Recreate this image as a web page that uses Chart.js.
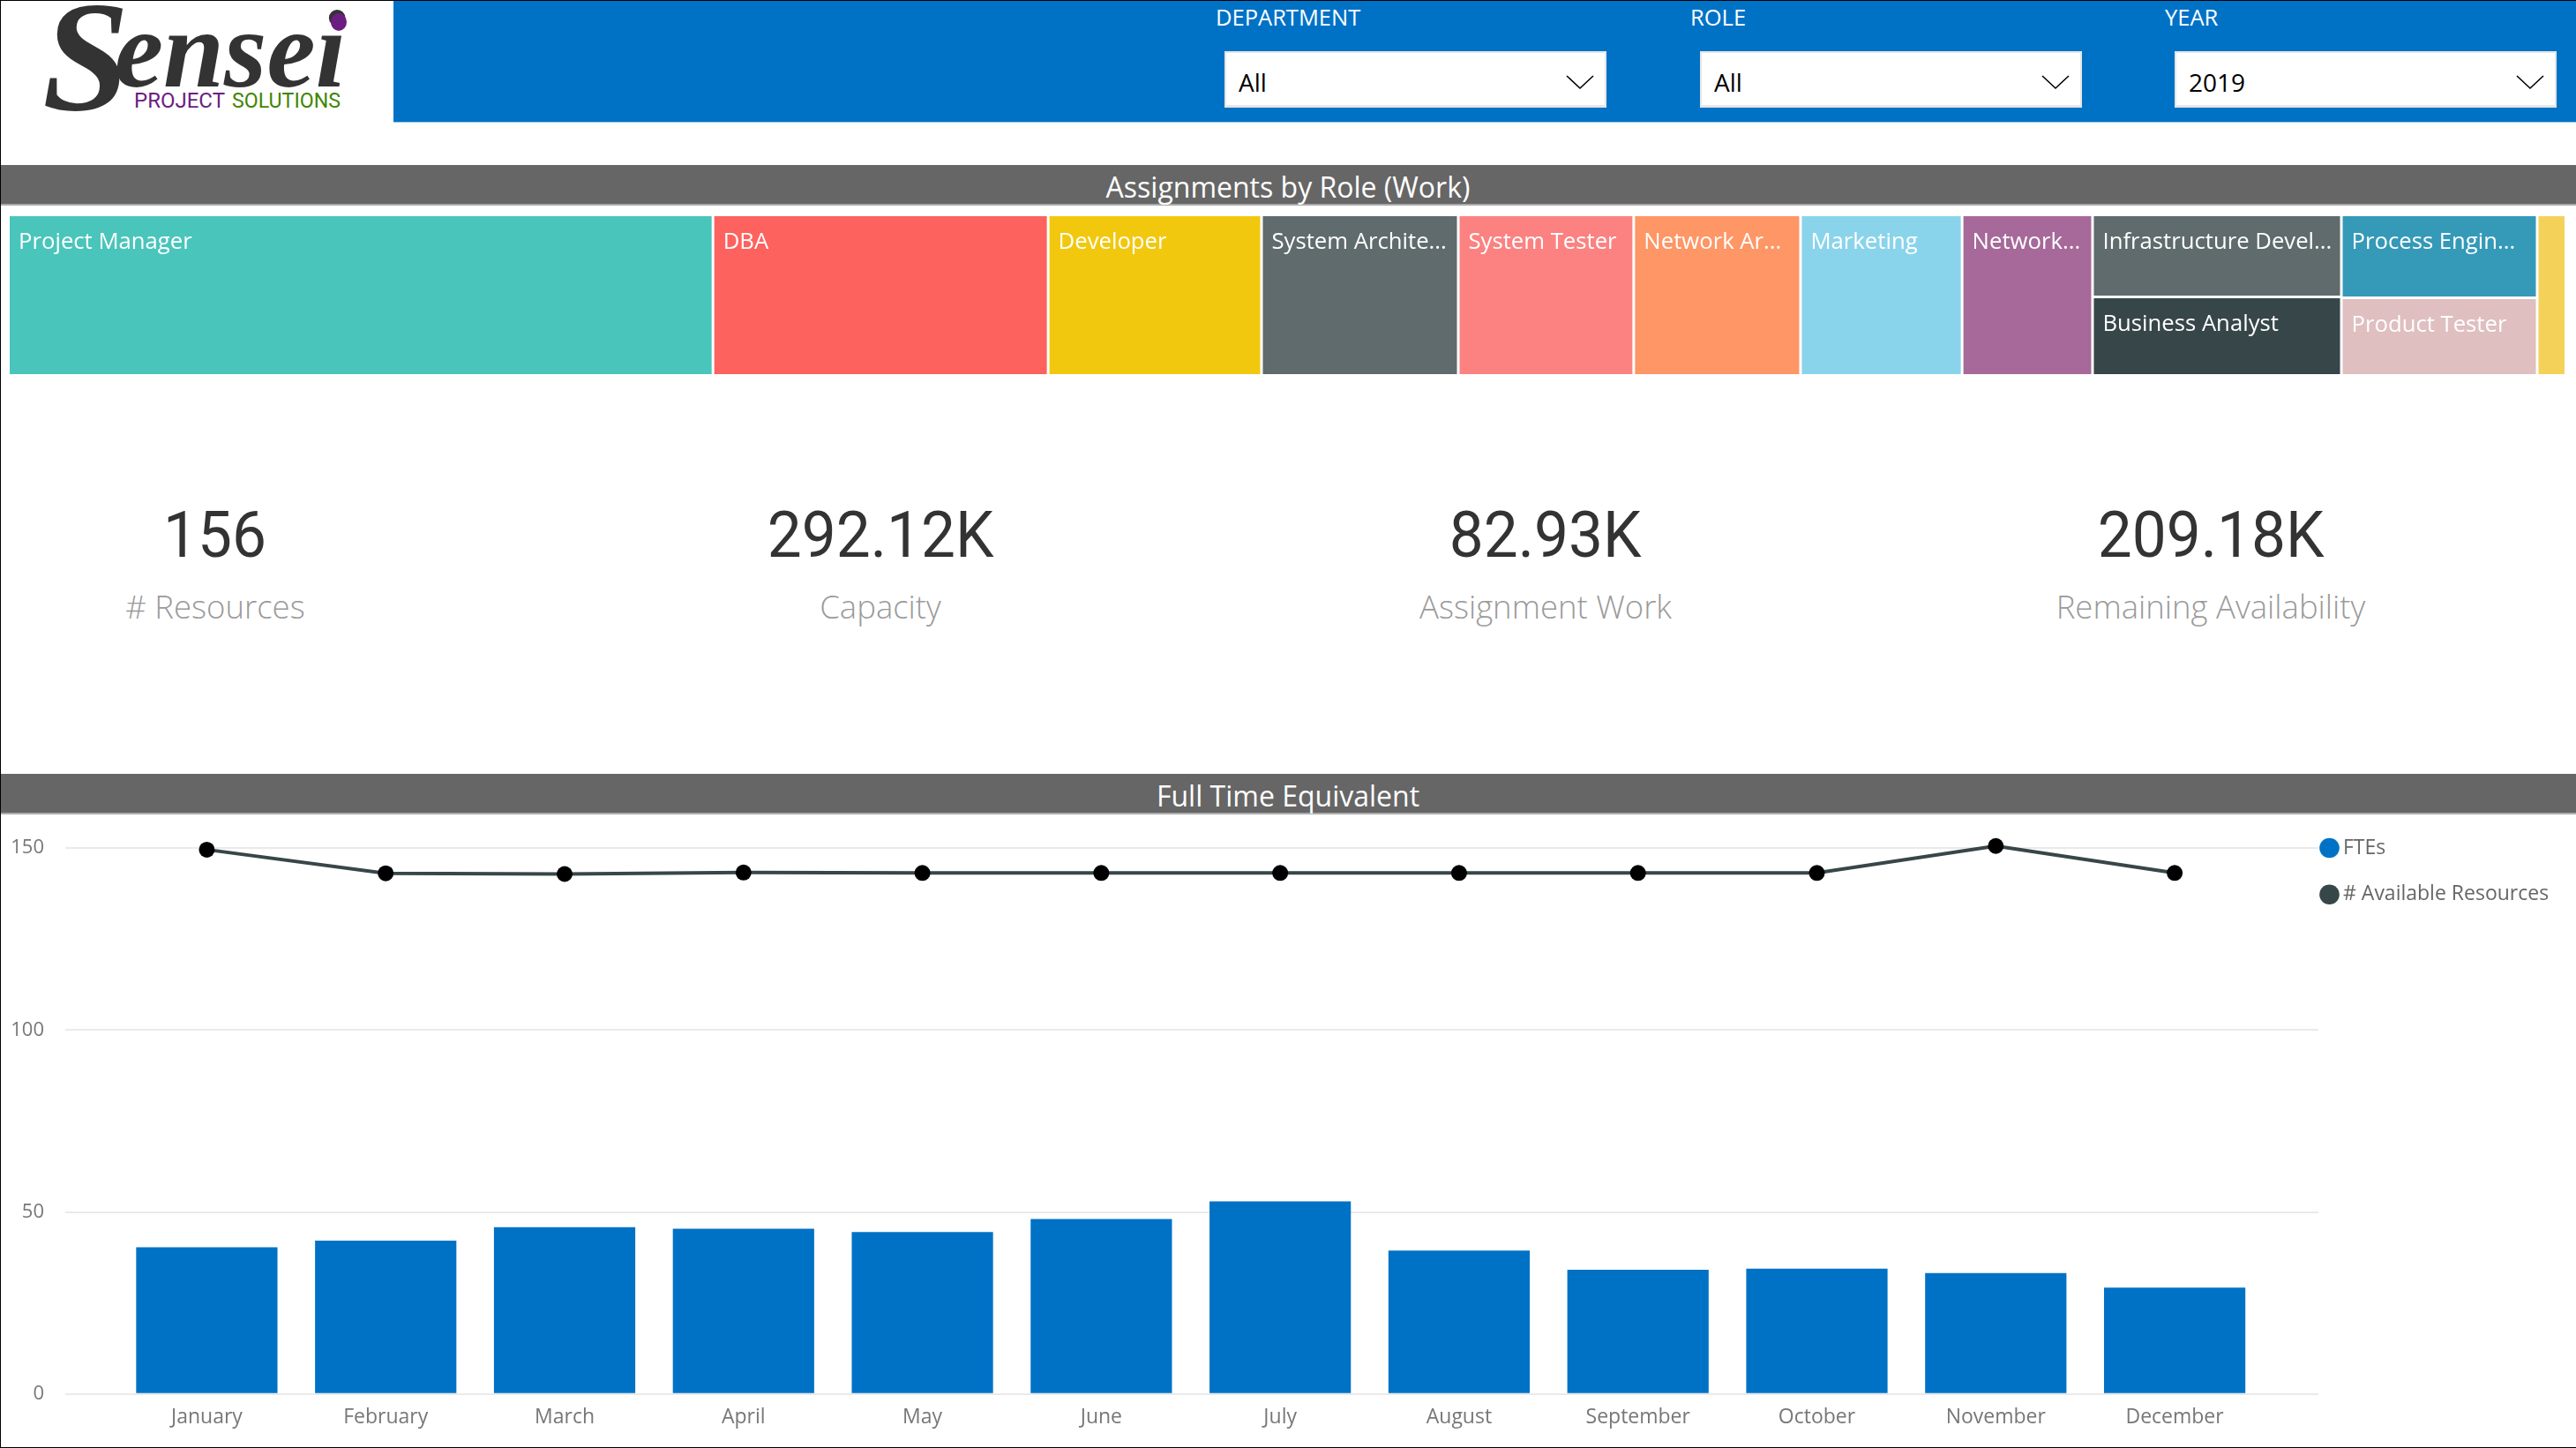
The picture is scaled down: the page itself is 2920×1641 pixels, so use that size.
<!DOCTYPE html>
<html>
<head>
<meta charset="utf-8">
<title>Sensei Project Solutions</title>
<script src="https://cdn.jsdelivr.net/npm/chart.js@4/dist/chart.umd.min.js"></script>
<style>
html,body{margin:0;padding:0;background:#fff;width:2920px;height:1641px;overflow:hidden;font-family:"Open Sans",sans-serif}
.abs{position:absolute}
#frame{left:0;top:0;width:2920px;height:1641px;box-sizing:border-box;border-top:1px solid #000;border-left:1px solid #000;border-bottom:1px solid #000;pointer-events:none;z-index:5}
#band{left:446px;top:1px;width:2474px;height:138px;background:#0072C6;border-bottom:1px solid #9cc4e4;box-sizing:border-box}
.slab{color:#fff;font-size:25.5px;line-height:25px;top:7px}
.box{top:58px;height:64px;width:433px;background:#fff;box-sizing:border-box;border:2px solid #e6e6e6;border-bottom-width:3px;border-top-width:2px}
.box span{position:absolute;left:14px;top:14px;font-size:28px;line-height:38px;color:#000}
.box svg{position:absolute;right:12px;top:24px}
.head{left:0;width:2920px;height:44px;background:#666;color:#fff;text-align:center;font-size:32px;line-height:50px;border-bottom:2px solid #aaa;}
.kv{width:800px;text-align:center;top:566px;font-family:Roboto,sans-serif;font-size:73px;line-height:80px;color:#333}
.kv span{display:inline-block;transform:scaleX(.95)}
.kl{width:800px;text-align:center;top:664px;font-size:36.5px;line-height:46px;color:#9a9a9a;font-weight:300}
canvas{position:absolute;display:block}
</style>
</head>
<body>
<div class="abs" id="frame"></div>
<svg class="abs" style="left:0;top:0" width="446" height="138">
  <text x="48" y="124" font-family="Liberation Serif" font-style="italic" font-weight="bold" font-size="177" fill="#333">S</text>
  <text x="130" y="98" font-family="Liberation Serif" font-style="italic" font-weight="bold" font-size="125" fill="#333" textLength="262" lengthAdjust="spacingAndGlyphs">ensei</text>
  <ellipse cx="384" cy="25" rx="9" ry="10" fill="#6C1D82"/>
  <text x="152" y="122" font-family="Roboto" font-size="24" fill="#6C1D82" textLength="103" lengthAdjust="spacingAndGlyphs">PROJECT</text>
  <text x="263" y="122" font-family="Roboto" font-size="24" fill="#3F8500" textLength="123" lengthAdjust="spacingAndGlyphs">SOLUTIONS</text>
</svg>
<div class="abs" id="band"></div>
<div class="abs slab" style="left:1378px">DEPARTMENT</div>
<div class="abs slab" style="left:1916px">ROLE</div>
<div class="abs slab" style="left:2454px">YEAR</div>
<div class="abs box" style="left:1388px"><span>All</span><svg width="32" height="18"><polyline points="1,2 16,16 31,2" fill="none" stroke="#000" stroke-width="1.6"/></svg></div>
<div class="abs box" style="left:1927px"><span>All</span><svg width="32" height="18"><polyline points="1,2 16,16 31,2" fill="none" stroke="#000" stroke-width="1.6"/></svg></div>
<div class="abs box" style="left:2465px"><span>2019</span><svg width="32" height="18"><polyline points="1,2 16,16 31,2" fill="none" stroke="#000" stroke-width="1.6"/></svg></div>
<div class="abs head" style="top:187px">Assignments by Role (Work)</div>
<div class="abs head" style="top:877px">Full Time Equivalent</div>
<div class="abs kv" style="left:-156px"><span>156</span></div>
<div class="abs kl" style="left:-156px"># Resources</div>
<div class="abs kv" style="left:598px"><span>292.12K</span></div>
<div class="abs kl" style="left:598px">Capacity</div>
<div class="abs kv" style="left:1352px"><span>82.93K</span></div>
<div class="abs kl" style="left:1352px">Assignment Work</div>
<div class="abs kv" style="left:2106px"><span>209.18K</span></div>
<div class="abs kl" style="left:2106px">Remaining Availability</div>
<canvas id="tree" width="2899" height="182" style="left:9px;top:243px"></canvas>
<canvas id="combo" width="2920" height="720" style="left:0;top:920px"></canvas>
<script>
const roles = ['Project Manager','DBA','Developer','System Archite...','System Tester','Network Ar...','Marketing','Network...','Infrastructure Devel...','Business Analyst','Process Engin...','Product Tester',''];
const roleWork = [22.85,10.87,6.92,6.38,5.69,5.41,5.24,4.23,4.12,3.95,3.28,3.07,0.93];
const roleColumn = [0,1,2,3,4,5,6,7,8,8,9,9,10];
const roleColors = ['#4AC5BB','#FD625E','#F2C80F','#5F6B6D','#FB8281','#FE9666','#8AD4EB','#A66999','#5F6B6D','#374649','#3599B8','#DFBFBF','#F4D25A'];
const months = ['January','February','March','April','May','June','July','August','September','October','November','December'];
const ftes = [40.3,42.1,45.8,45.4,44.5,48.1,52.95,39.4,34.1,34.4,33.2,29.2];
const availableResources = [149.6,143.1,142.9,143.3,143.2,143.2,143.2,143.2,143.2,143.2,150.6,143.2];
const yTicks = [0,50,100,150];

const uiFont = '"Open Sans", sans-serif';

/* Treemap: every cell is a bar element positioned through linear x / y scales. */
class TreemapController extends Chart.BarController {
  update(mode){ const m=this._cachedMeta; this.updateElements(m.data,0,m.data.length,mode); }
  updateElements(rects,start,count,mode){
    const xs=this._cachedMeta.xScale, ys=this._cachedMeta.yScale, vals=this.getDataset().data;
    const colTotal={}; vals.forEach((v,i)=>{colTotal[roleColumn[i]]=(colTotal[roleColumn[i]]||0)+v;});
    let xCum=0, col=-1, yCum=0;
    for(let i=0;i<vals.length;i++){
      if(roleColumn[i]!==col){ if(col>=0) xCum+=colTotal[col]; col=roleColumn[i]; yCum=0; }
      const L=xs.getPixelForValue(xCum)+2, R=xs.getPixelForValue(xCum+colTotal[col])-1;
      const T=ys.getPixelForValue(yCum)+2, B=ys.getPixelForValue(yCum+vals[i]/colTotal[col])-1;
      yCum+=vals[i]/colTotal[col];
      if(i>=start && i<start+count){
        this.updateElement(rects[i],i,{horizontal:false,borderSkipped:{},inflateAmount:0,enableBorderRadius:false,x:(L+R)/2,width:R-L,y:T,base:B,height:B-T,options:this.resolveDataElementOptions(i,mode)},mode);
      }
    }
  }
}
TreemapController.id='treemap';
TreemapController.defaults=Chart.BarController.defaults;
Chart.register(TreemapController);

const cellLabels={id:'cellLabels',afterDatasetsDraw(c){
  const ctx=c.ctx, els=c.getDatasetMeta(0).data;
  ctx.save(); ctx.fillStyle='#fff'; ctx.font='25.7px '+uiFont; ctx.textBaseline='alphabetic';
  els.forEach((e,i)=>{ if(roles[i]) ctx.fillText(roles[i],e.x-e.width/2+10,e.y+37); });
  ctx.restore();
}};
const workTotal=roleWork.reduce((a,b)=>a+b,0);
new Chart(document.getElementById('tree'),{
  type:'treemap',
  data:{labels:roles,datasets:[{label:'Work',data:roleWork,backgroundColor:roleColors,borderWidth:0}]},
  plugins:[cellLabels],
  options:{responsive:false,animation:false,layout:{padding:0,autoPadding:false},
    plugins:{legend:{display:false},tooltip:{enabled:false}},
    scales:{x:{type:'linear',display:false,offset:false,min:0,max:workTotal},y:{type:'linear',display:false,offset:false,min:0,max:1,reverse:true}}}
});

const LEG_P=29.7;
const legendPos={id:'legendPos',afterLayout(c){ c.legend.left=2636.5-LEG_P; c.legend.top=41-11.5-LEG_P; }};
new Chart(document.getElementById('combo'),{
  data:{labels:months,datasets:[
    {type:'bar',label:'FTEs',data:ftes,backgroundColor:'#0072C6',borderWidth:0,barPercentage:.79,categoryPercentage:1,order:2},
    {type:'line',label:'# Available Resources',data:availableResources,borderColor:'#374649',backgroundColor:'#374649',borderWidth:4,tension:0,fill:false,
     pointRadius:9,pointBackgroundColor:'#000',pointBorderColor:'#000',pointBorderWidth:0,order:1}
  ]},
  plugins:[legendPos],
  options:{responsive:false,animation:false,layout:{padding:0,autoPadding:false},
    plugins:{tooltip:{enabled:false},
      legend:{position:'right',align:'start',maxWidth:292,
        labels:{usePointStyle:true,pointStyle:'circle',boxWidth:8,boxHeight:16,padding:LEG_P,color:'#666',font:{family:uiFont,size:23},
          sort:(a,b)=>a.datasetIndex-b.datasetIndex,
          generateLabels(c){ const it=Chart.defaults.plugins.legend.labels.generateLabels(c);
            it.forEach(o=>{const col=c.data.datasets[o.datasetIndex].backgroundColor;o.fillStyle=col;o.strokeStyle=col;o.lineWidth=0;}); return it; }}}},
    scales:{
      x:{type:'category',offset:true,
        afterBuildTicks(s){ s._startValue=-0.7936; s._valueRange=12.597; },
        afterFit(s){ s.height=60.3; s.paddingLeft=0; s.paddingRight=0; },
        grid:{display:false},border:{display:false},
        ticks:{color:'#777',font:{family:uiFont,size:23},padding:5,maxRotation:0,autoSkip:false}},
      y:{type:'linear',min:0,max:160,
        afterBuildTicks(s){ s.ticks=yTicks.map(v=>({value:v})); },
        afterFit(s){ s.width=73.5; s.paddingTop=0; s.paddingBottom=0; },
        grid:{color:'#eaeaea',lineWidth:2,drawTicks:false},border:{display:false},
        ticks:{color:'#777',font:{family:uiFont,size:22},padding:23.5}}
    }}
});
</script>
</body>
</html>
